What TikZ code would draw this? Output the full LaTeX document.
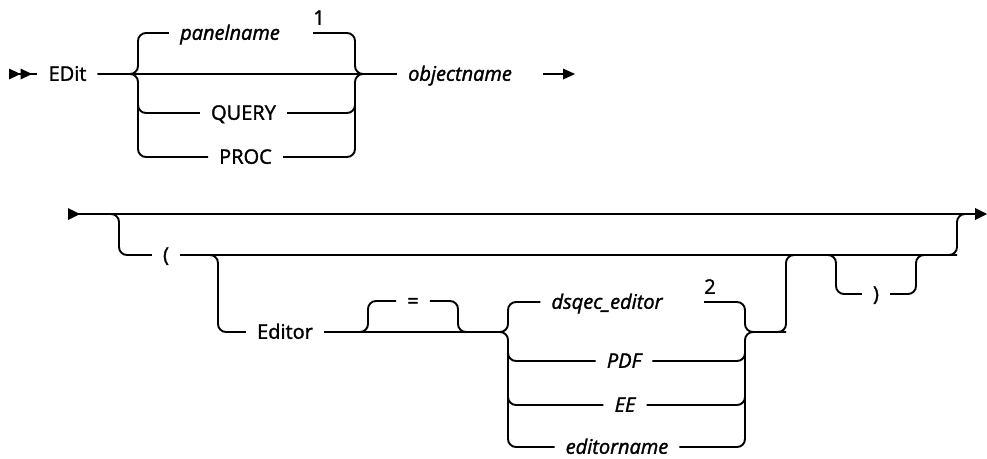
\documentclass[tikz,border=0pt]{standalone}
\usepackage{fontspec}
\setmainfont{Open Sans}[FakeBold=1.6]
\usetikzlibrary{positioning}

\begin{document}
\begin{tikzpicture}[x=1pt, y=-1pt,
    rail/.style={line width=1.9pt, rounded corners=8pt},
    kw/.style={font=\fontsize{20}{24}\selectfont, inner xsep=11pt, inner ysep=0pt, text height=13.5pt, text depth=0pt},
    var/.style={kw, font=\fontsize{20}{24}\selectfont\itshape},
    fnote/.style={kw, inner xsep=0pt}]
  \useasboundingbox (0,0) rectangle (987,458);

  % first line
  \coordinate (s1) at (9,74);
  \coordinate (b1l) at (138,74);
  \coordinate (b1r) at (355,74);
  \coordinate (e1a) at (543,74);
  \coordinate (e1) at (575,74);

  \node[kw] (edit) at (67.5,74) {EDit};
  \node[var] (panel) at (230,33) {panelname};
  \node[fnote] (fn1) at (319,18) {1};
  \node[kw] (query) at (243.5,113) {QUERY};
  \node[kw] (proc) at (245.5,157) {PROC};
  \node[var] (obj) at (460,74) {objectname};

  \fill[shift={(s1)}] (0,-5.5) -- (11.5,0) -- (0,5.5) -- cycle (11.5,-5.5) -- (23,0) -- (11.5,5.5) -- cycle;
  \draw[rail] (s1) -- (edit.west);
  \draw[rail] (edit.east) -- (obj.west);
  \draw[rail] (edit.east) -| (b1l |- panel) -- (panel.west);
  \draw[rail] (edit.east) -| (b1l |- proc) -- (proc.west);
  \draw[rail] ([yshift=-8pt]b1l) |- (query.west);
  \draw[rail] (fn1.south west |- panel) -| (b1r) -- (obj.west);
  \draw[rail] (query.east) -| ([yshift=-8pt]b1r);
  \draw[rail] (proc.east) -| (b1r) -- (obj.west);
  \draw[rail] (e1a) -- ([xshift=-6pt]e1);
  \fill[shift={(e1)}] (-12,-5.5) -- (0,0) -- (-12,5.5) -- cycle;

  % second line
  \coordinate (s2) at (68,214);
  \coordinate (e2) at (987,214);
  \coordinate (o1) at (119,214);
  \coordinate (j2) at (957,214);
  \coordinate (j3) at (218,255);
  \coordinate (q1) at (368,332);
  \coordinate (q2) at (458,332);
  \coordinate (d1) at (508,332);
  \coordinate (d2) at (745,332);
  \coordinate (u1) at (786,255);
  \coordinate (j4) at (836,255);
  \coordinate (j5) at (916,255);

  \node[kw] (lpar) at (166,255) {(};
  \node[kw] (ed) at (285,332) {Editor};
  \node[kw] (eq) at (413,301) {=};
  \node[var] (dsq) at (607,302) {dsqec\_editor};
  \node[fnote] (fn2) at (710,287) {2};
  \node[var] (pdf) at (624,361) {PDF};
  \node[var] (ee) at (625,405) {EE};
  \node[var] (ename) at (617,447) {editorname};
  \node[kw] (rpar) at (876,294) {)};

  \fill[shift={(s2)}] (0,-6) -- (12,0) -- (0,6) -- cycle;
  \fill[shift={(e2)}] (-12,-6) -- (0,0) -- (-12,6) -- cycle;
  \draw[rail] (s2) -- ([xshift=-6pt]e2);
  \draw[rail] (s2) -| (o1 |- lpar) -- (lpar.west);
  \draw[rail] (lpar.east) -| (j2) -- ([xshift=-6pt]e2);
  \draw[rail] (lpar.east) -| (j3 |- ed) -- (ed.west);
  % = may be left out
  \draw[rail] (ed.east) -| (q1 |- eq) -- (eq.west);
  \draw[rail] (eq.east) -| (q2) -- ([xshift=-8pt]d1);
  \draw[rail] (ed.east) -- ([xshift=-8pt]d1);
  % editor choice
  \draw[rail] (ed.east) -| (d1 |- dsq) -- (dsq.west);
  \draw[rail] (ed.east) -| (d1 |- ename) -- (ename.west);
  \draw[rail] ([yshift=-8pt]d1) |- (pdf.west);
  \draw[rail] ([yshift=-8pt]d1) |- (ee.west);
  \draw[rail] (fn2.south west |- dsq) -| (d2) -| (u1) -- (j4);
  \draw[rail] (pdf.east) -| ([yshift=-8pt]d2);
  \draw[rail] (ee.east) -| ([yshift=-8pt]d2);
  \draw[rail] (ename.east) -| (d2) -- (u1 |- d2);
  % ) may be left out
  \draw[rail] (lpar.east) -| (j4 |- rpar) -- (rpar.west);
  \draw[rail] (rpar.east) -| (j5) -- (j2 |- j5);
\end{tikzpicture}
\end{document}
